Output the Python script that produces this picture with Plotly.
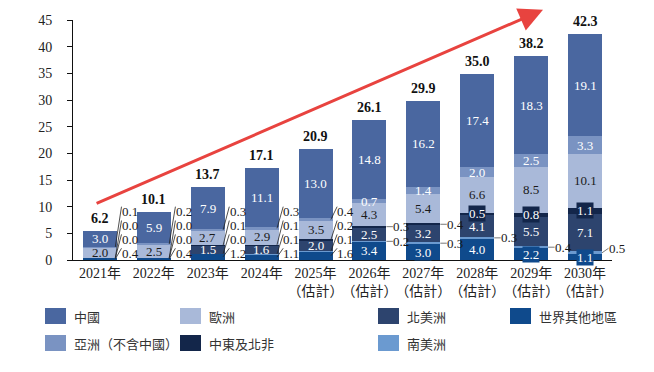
import plotly.graph_objects as go

# ---------------- data ----------------
categories = ["2021年", "2022年", "2023年", "2024年", "2025年<br>（估計）", "2026年<br>（估計）",
              "2027年<br>（估計）", "2028年<br>（估計）", "2029年<br>（估計）", "2030年<br>（估計）"]
china = [3.0, 5.9, 7.9, 11.1, 13.0, 14.8, 16.2, 17.4, 18.3, 19.1]
asia_ex_china = [0.1, 0.2, 0.3, 0.3, 0.4, 0.7, 1.4, 2.0, 2.5, 3.3]
europe = [2.0, 2.5, 2.7, 2.9, 3.5, 4.3, 5.4, 6.6, 8.5, 10.1]
mena = [0.0, 0.0, 0.1, 0.1, 0.2, 0.3, 0.4, 0.5, 0.8, 1.1]
north_america = [None, None, 1.5, 1.6, 2.0, 2.5, 3.2, 4.1, 5.5, 7.1]
south_america = [0.0, 0.0, 0.0, 0.1, 0.1, 0.2, 0.3, 0.3, 0.4, 0.5]
rest_of_world = [0.4, 0.4, 1.2, 1.1, 1.6, 3.4, 3.0, 4.0, 2.2, 1.1]
totals = [6.2, 10.1, 13.7, 17.1, 20.9, 26.1, 29.9, 35.0, 38.2, 42.3]
y_ticks = [0, 5, 10, 15, 20, 25, 30, 35, 40, 45]

# ---------------- style ----------------
SERIF = "Liberation Serif, Times New Roman, Noto Sans CJK TC, serif"
CJK = "Noto Sans CJK TC, Noto Sans CJK SC, sans-serif"
series = [  # bottom -> top: (name, values, colour, label colour, boxed)
    ("世界其他地區", rest_of_world, "#0f4a8c", "white", True),
    ("南美洲", south_america, "#6b9ad0", "white", False),
    ("北美洲", north_america, "#2d446e", "white", False),
    ("中東及北非", mena, "#13264a", "white", True),
    ("歐洲", europe, "#a9b9d9", "#1a1a1a", False),
    ("亞洲（不含中國）", asia_ex_china, "#7a93c2", "white", False),
    ("中國", china, "#4a67a0", "white", False),
]
legend_layout = [  # name, column pixel x (window), row
    ("中國", 45, 0), ("歐洲", 180, 0), ("北美洲", 378, 0), ("世界其他地區", 510, 0),
    ("亞洲（不含中國）", 45, 1), ("中東及北非", 180, 1), ("南美洲", 378, 1),
]
callout_cols = 5  # first five columns: small values stacked as call-outs on the right
HALF = 0.315
LBL = 13

OFF = 8  # page body margin
W, H = 654, 372
PLOT_L, PLOT_T, PW, PH = 73, 20, 539, 240  # plot area in window pixels
ML, MT = PLOT_L - OFF, PLOT_T - OFF
MR, MB = W - ML - PW, H - MT - PH

fig = go.Figure()
for name, vals, col, _, _ in series:
    fig.add_trace(go.Bar(x=categories, y=vals, name=name, marker=dict(color=col, line=dict(width=0)),
                         width=2 * HALF, showlegend=False, hoverinfo="y+name"))

n = len(categories)
bases = {}
cum = [0.0] * n
for name, vals, col, _, _ in series:
    bases[name] = list(cum)
    cum = [c + (v or 0) for c, v in zip(cum, vals)]
stack_top = cum

annotations = []
shapes = []


def add_text(x, y, txt, color, xanchor="center", bg=None):
    annotations.append(dict(
        x=x, y=y, xref="x", yref="y", text=txt, showarrow=False,
        xanchor=xanchor, yanchor="middle", font=dict(family=SERIF, size=LBL, color=color),
        bgcolor=bg, borderpad=0))


slots = [1.3, 3.9, 6.5, 9.1]
for i in range(n):
    if i < callout_cols:
        outside = ["世界其他地區", "南美洲", "中東及北非", "亞洲（不含中國）"]
    elif i < 7:
        outside = ["南美洲", "中東及北非"]
    else:
        outside = ["南美洲"]
    k = 0
    for name, vals, col, tcol, boxed in series:
        v = vals[i]
        if v is None:
            continue
        mid = bases[name][i] + v / 2
        if name in outside:
            if i < callout_cols:
                sy = slots[k]
                k += 1
                shapes.append(dict(type="line", xref="x", yref="y", x0=i + HALF - 0.03, y0=mid,
                                   x1=i + 0.40, y1=sy + 0.9, line=dict(color="#222", width=0.8)))
                add_text(i + 0.385, sy, "%.1f" % v, "#1a1a1a", xanchor="left")
            else:
                sy = max(mid, 2.2)
                shapes.append(dict(type="line", xref="x", yref="y", x0=i + HALF, y0=mid,
                                   x1=i + HALF + 0.12, y1=sy, line=dict(color="#555", width=0.8)))
                add_text(i + HALF + 0.11, sy, "%.1f" % v, "#1a1a1a", xanchor="left")
        else:
            add_text(i, mid, "%.1f" % v, tcol, bg=col if boxed else None)
    annotations.append(dict(x=i, y=stack_top[i], xref="x", yref="y", text="<b>%.1f</b>" % totals[i],
                            showarrow=False, yanchor="bottom", yshift=3,
                            font=dict(family=SERIF, size=14, color="#111")))

# red trend arrow
annotations.append(dict(x=8.22, y=46.9, ax=-0.09, ay=10.5, xref="x", yref="y", axref="x", ayref="y",
                        showarrow=True, arrowhead=2, arrowsize=1.6, arrowwidth=3, arrowcolor="#e8433f",
                        text=""))

# custom legend (paper coordinates derived from window pixel layout)
colors = {s[0]: s[2] for s in series}
for name, px, row in legend_layout:
    top = 308 + row * 27
    x0 = (px - PLOT_L) / PW
    x1 = (px + 21 - PLOT_L) / PW
    y0 = (PLOT_T + PH - (top + 16)) / PH
    y1 = (PLOT_T + PH - top) / PH
    shapes.append(dict(type="rect", xref="paper", yref="paper", x0=x0, x1=x1, y0=y0, y1=y1,
                       fillcolor=colors[name], line=dict(width=0)))
    annotations.append(dict(x=(px + 27 - PLOT_L) / PW, y=(y0 + y1) / 2, xref="paper", yref="paper",
                            text=name, showarrow=False, xanchor="left", yanchor="middle",
                            font=dict(family=CJK, size=13, color="#333")))

fig.update_layout(
    width=W, height=H, margin=dict(l=ML, r=MR, t=MT, b=MB, pad=0, autoexpand=False),
    paper_bgcolor="white", plot_bgcolor="white", barmode="stack",
    font=dict(family=SERIF, size=14, color="#222"),
    annotations=annotations, shapes=shapes, showlegend=False,
    xaxis=dict(type="category", range=[-0.5, n - 0.5], showline=True, linecolor="#111", linewidth=1,
               ticks="", showgrid=False, tickangle=0, automargin=False,
               tickfont=dict(family=SERIF, size=14, color="#222"), fixedrange=True),
    yaxis=dict(range=[0, 45], tickvals=y_ticks, showline=True, linecolor="#111", linewidth=1,
               ticks="outside", ticklen=5, tickcolor="#111", showgrid=False, zeroline=False,
               automargin=False, ticklabelstandoff=12,
               tickfont=dict(family=SERIF, size=14, color="#222"), fixedrange=True),
)
fig.write_html("out.html")
